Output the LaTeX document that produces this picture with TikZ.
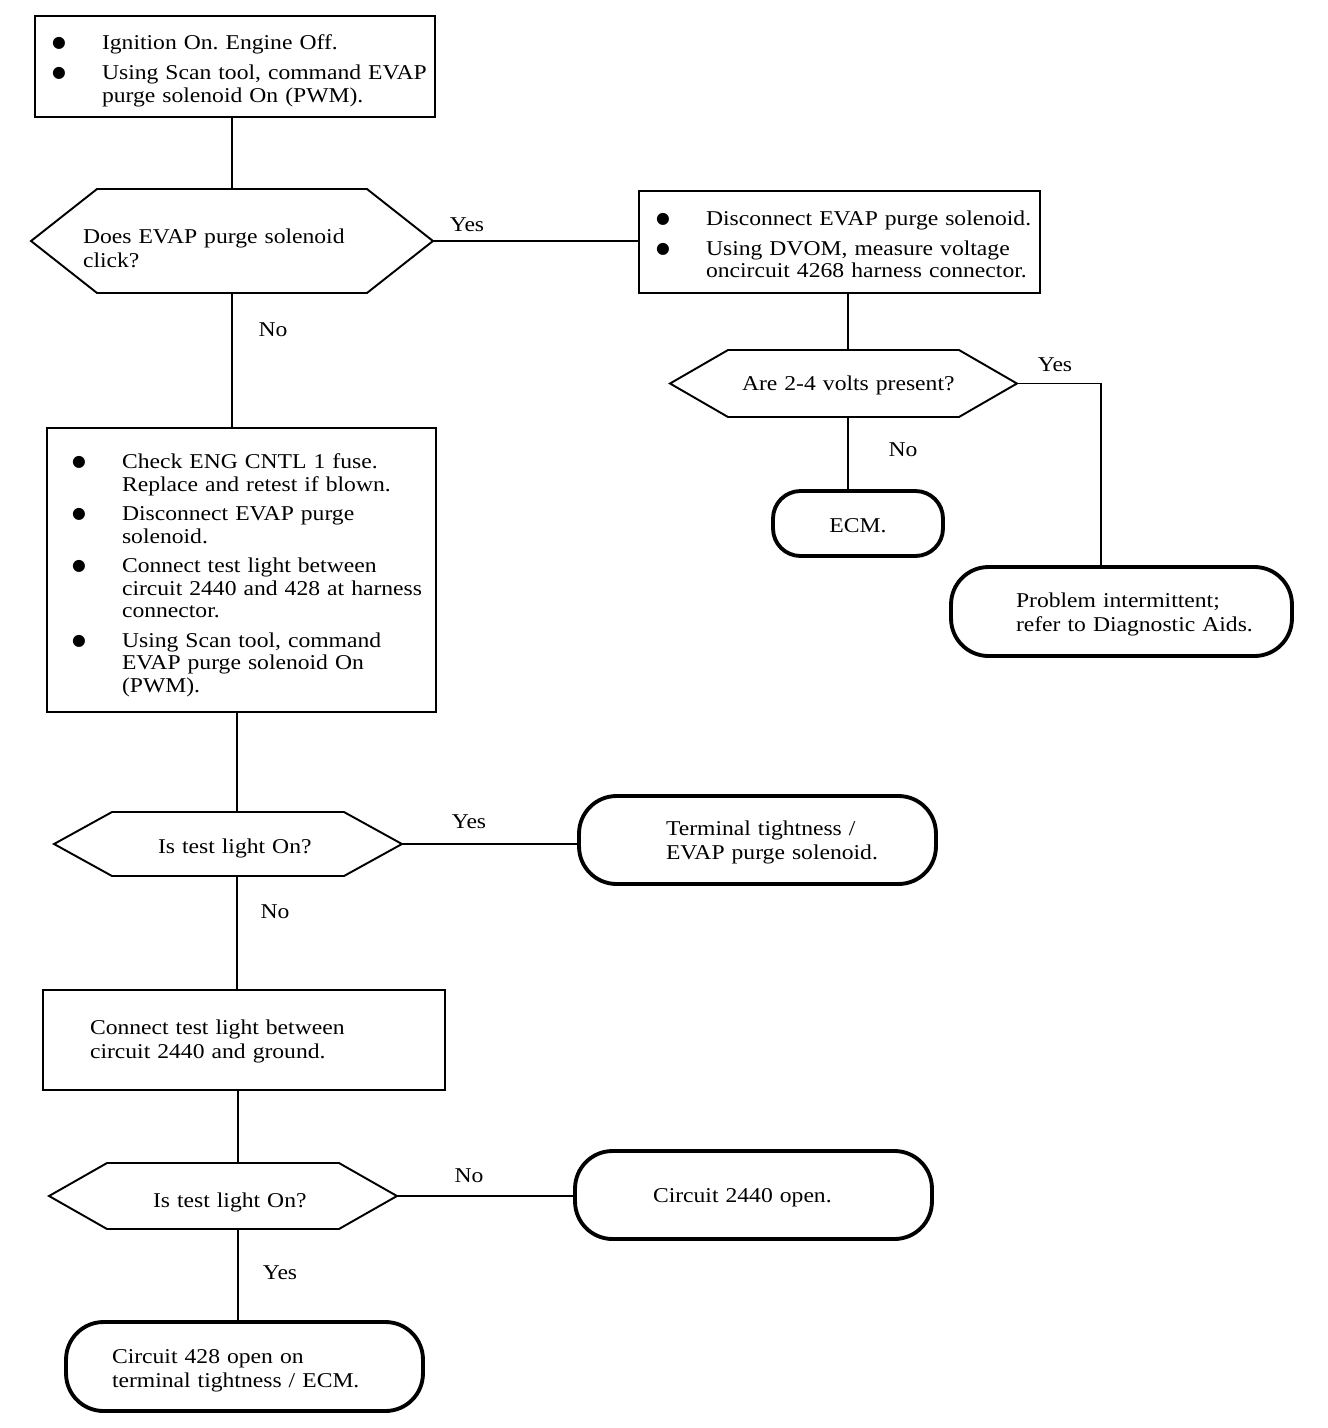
\documentclass[tikz,border=0pt]{standalone}
\usepackage{fontspec}
\setmainfont{Liberation Serif}[FakeStretch=1.12]
\newfontfamily\dotfont{DejaVu Sans}
\usepackage{tikz}
\usetikzlibrary{positioning,calc}

\frenchspacing
\newcommand{\dotmark}{\raisebox{0.04cm}{\dotfont\fontsize{9}{9}\selectfont ●}}
\newcommand{\sink}[2][0.1cm]{\raisebox{-#1}[\height][\depth]{#2}}
\newcommand{\stack}[1]{{\renewcommand{\arraystretch}{1.07}\begin{tabular}{@{}l@{}}#1\end{tabular}}}
\newcommand{\hexframe}[2]{%
  \draw[hexline] (#1.west) -- ([xshift=#2]#1.north west) -- ([xshift=-#2]#1.north east)
    -- (#1.east) -- ([xshift=-#2]#1.south east) -- ([xshift=#2]#1.south west) -- cycle;}

\tikzset{
  actbox/.style={draw,line width=1.1pt,align=left,inner ysep=0pt,outer sep=0pt},
  endbox/.style={draw,line width=2.2pt,rounded corners=0.75cm,align=left,inner ysep=0pt,outer sep=0pt},
  askbox/.style={align=left,inner ysep=0pt,outer sep=0pt},
  hexline/.style={line width=1.1pt,line join=miter},
  link/.style={line width=0.9pt},
  tag/.style={inner sep=1pt}
}

\begin{document}
\begin{tikzpicture}[x=0.02cm,y=-0.02cm,every node/.style={font=\fontsize{12}{12.8}\selectfont}]
  \useasboundingbox (0,0) rectangle (1328,1428);

  % action boxes
  \node[actbox,text width=7.32cm,inner xsep=0.34cm,minimum height=2.02cm] (start) at (235,66.5)
    {\sink{\begin{tabular}{@{}p{1.0cm}@{}l@{}}
      \dotmark & Ignition On. Engine Off.\\[4.5pt]
      \dotmark & Using Scan tool, command EVAP\\
               & purge solenoid On (PWM).
     \end{tabular}}};
  \node[actbox,text width=7.34cm,inner xsep=0.34cm,minimum height=2.04cm] (disc) at (839.5,242)
    {\sink{\begin{tabular}{@{}p{1.0cm}@{}l@{}}
      \dotmark & Disconnect EVAP purge solenoid.\\[4.5pt]
      \dotmark & Using DVOM, measure voltage\\
               & oncircuit 4268 harness connector.
     \end{tabular}}};
  \node[actbox,text width=6.78cm,inner xsep=0.5cm,minimum height=5.68cm] (chk) at (241.5,570)
    {\sink[0.12cm]{\begin{tabular}{@{}p{1.0cm}@{}l@{}}
      \dotmark & Check ENG CNTL 1 fuse.\\
               & Replace and retest if blown.\\[4pt]
      \dotmark & Disconnect EVAP purge\\
               & solenoid.\\[4pt]
      \dotmark & Connect test light between\\
               & circuit 2440 and 428 at harness\\
               & connector.\\[4pt]
      \dotmark & Using Scan tool, command\\
               & EVAP purge solenoid On\\
               & (PWM).
     \end{tabular}}};
  \node[actbox,text width=6.16cm,inner xsep=0.94cm,minimum height=2.0cm] (gnd) at (244,1040)
    {\sink[0.04cm]{\stack{Connect test light between\\ circuit 2440 and ground.}}};

  % questions
  \node[askbox,text width=5.96cm,inner xsep=1.04cm,minimum height=2.08cm] (q1) at (232,241)
    {\sink[0.2cm]{\stack{Does EVAP purge solenoid\\ click?}}};
  \node[askbox,text width=4.06cm,inner xsep=1.44cm,minimum height=1.34cm] (q2) at (843.5,383.5)
    {\sink[0.04cm]{\stack{Are 2-4 volts present?}}};
  \node[askbox,text width=2.8cm,inner xsep=2.08cm,minimum height=1.28cm] (q3) at (228,844)
    {\sink{\stack{Is test light On?}}};
  \node[askbox,text width=2.8cm,inner xsep=2.08cm,minimum height=1.32cm] (q4) at (223,1196)
    {\sink[0.13cm]{\stack{Is test light On?}}};
  \hexframe{q1}{1.32cm}
  \hexframe{q2}{1.16cm}
  \hexframe{q3}{1.16cm}
  \hexframe{q4}{1.16cm}

  % end results
  \node[endbox,rounded corners=0.55cm,align=center,minimum width=3.4cm,minimum height=1.3cm] (ecm) at (858,523.5)
    {\sink[0.04cm]{ECM.}};
  \node[endbox,text width=4.22cm,inner xsep=1.3cm,minimum height=1.78cm] (pi) at (1121.5,611.5)
    {\sink[0.06cm]{\stack{Problem intermittent;\\ refer to Diagnostic Aids.}}};
  \node[endbox,text width=3.66cm,inner xsep=1.74cm,minimum height=1.76cm] (tt) at (757.5,840)
    {\sink[0.06cm]{\stack{Terminal tightness /\\ EVAP purge solenoid.}}};
  \node[endbox,text width=4.02cm,inner xsep=1.56cm,minimum height=1.76cm] (c2440) at (753.5,1195)
    {\sink[0.06cm]{\stack{Circuit 2440 open.}}};
  \node[endbox,text width=5.3cm,inner xsep=0.92cm,minimum height=1.78cm] (c428) at (244.5,1366.5)
    {\sink[0.08cm]{\stack{Circuit 428 open on\\ terminal tightness / ECM.}}};

  % connectors
  \draw[link] (q1.north) -- (q1.north |- start.south);
  \draw[link] (q1.east) -- (q1.east -| disc.west);
  \draw[link] (q1.south) -- (q1.south |- chk.north);
  \draw[link] ([xshift=0.09cm]q2.north) -- ([xshift=0.09cm]q2.north |- disc.south);
  \draw[link] ([xshift=0.09cm]q2.south) -- ([xshift=0.09cm]q2.south |- ecm.north);
  \draw[link] (q2.east) -| ([xshift=-0.41cm]pi.north);
  \draw[link] ([xshift=0.18cm]q3.north) -- ([xshift=0.18cm]q3.north |- chk.south);
  \draw[link] (q3.east) -- (q3.east -| tt.west);
  \draw[link] ([xshift=0.18cm]q3.south) -- ([xshift=0.18cm]q3.south |- gnd.north);
  \draw[link] ([xshift=0.3cm]q4.north) -- ([xshift=0.3cm]q4.north |- gnd.south);
  \draw[link] (q4.east) -- (q4.east -| c2440.west);
  \draw[link] ([xshift=0.3cm]q4.south) -- ([xshift=0.3cm]q4.south |- c428.north);

  % branch labels
  \node[tag] (yes1) at (467,225) {Yes};
  \node[tag] (no1) at (273,330) {No};
  \node[tag] (yes2) at (1055,365) {Yes};
  \node[tag] (no2) at (903,450) {No};
  \node[tag] (yes3) at (469,822) {Yes};
  \node[tag] (no3) at (275,912) {No};
  \node[tag] (no4) at (469,1176) {No};
  \node[tag] (yes4) at (280,1273) {Yes};
\end{tikzpicture}
\end{document}
